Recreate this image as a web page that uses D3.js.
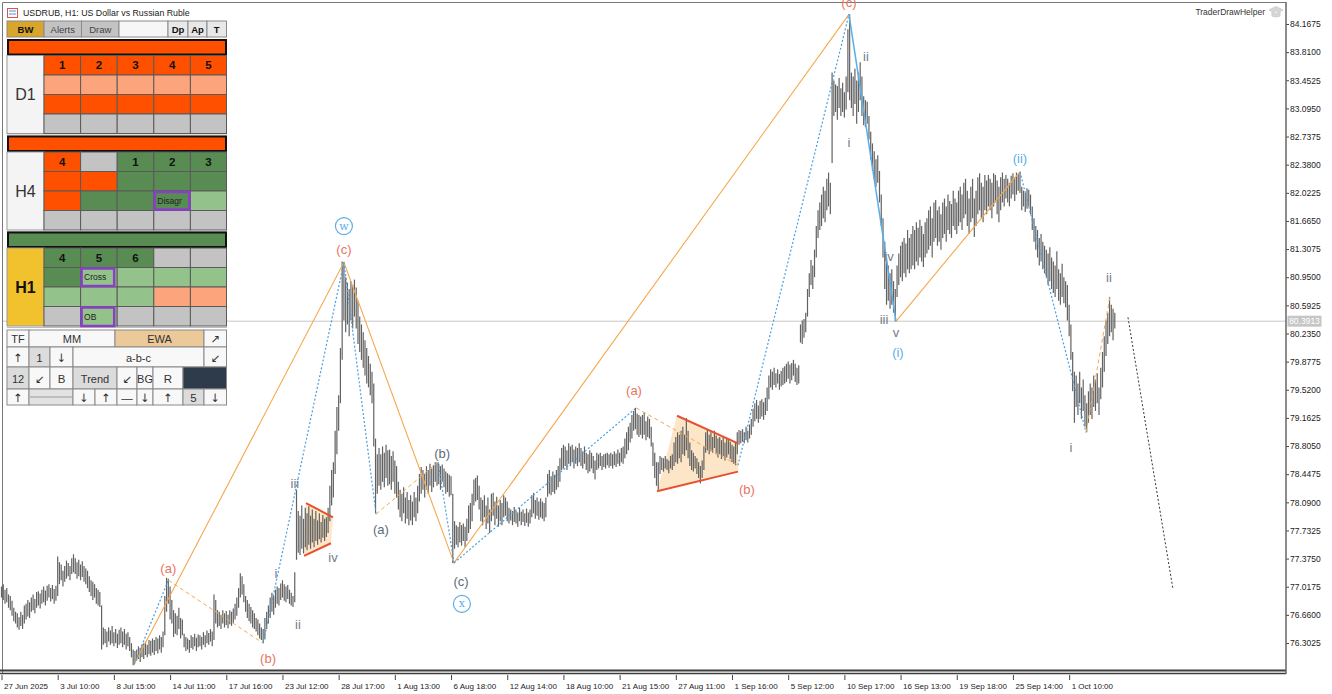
<!DOCTYPE html>
<html>
<head>
<meta charset="utf-8">
<script src="https://cdn.jsdelivr.net/npm/d3@7"></script>
<style>
  body { margin: 0; background: #fff; }
  svg { display: block; font-family: "Liberation Sans", Arial, sans-serif; }
</style>
</head>
<body>
<svg id="chart" width="1332" height="694"></svg>
<script>
// price axis ticks, time axis ticks (bar index + label), last price
const priceTicks = [84.1675, 83.81, 83.4525, 83.095, 82.7375, 82.38, 82.0225, 81.665, 81.3075, 80.95,
  80.5925, 80.235, 79.8775, 79.52, 79.1625, 78.805, 78.4475, 78.09, 77.7325, 77.375, 77.0175, 76.66, 76.3025];
const timeTickBars = [0, 32, 64, 96, 128, 160, 192, 224, 256, 288, 320, 352, 384, 416, 448, 480, 512, 544, 576, 608];
const timeLabels = ['27 Jun 2025', '3 Jul 10:00', '8 Jul 15:00', '14 Jul 11:00', '17 Jul 16:00', '23 Jul 12:00',
  '28 Jul 17:00', '1 Aug 13:00', '6 Aug 18:00', '12 Aug 14:00', '18 Aug 10:00', '21 Aug 15:00', '27 Aug 11:00',
  '1 Sep 16:00', '5 Sep 12:00', '10 Sep 17:00', '16 Sep 13:00', '19 Sep 18:00', '25 Sep 14:00', '1 Oct 10:00'];
const lastPrice = 80.3913;

// H1 bars as [low, high], one row per trading day (10:00-18:00)
const barsJun = [
  [76.88,77.02],[76.85,77.05],[76.80,76.98],[76.82,77.00],[76.75,76.92],
  [76.72,76.90],[76.65,76.84],[76.58,76.75],[76.55,76.70],[76.50,76.68],[76.47,76.63],[76.52,76.70],[76.48,76.66],[76.55,76.78]
];
const barsJul = [
  [76.60,76.80],[76.64,76.85],[76.62,76.82],[76.70,76.88],[76.72,76.92],[76.68,76.86],[76.75,76.95],[76.78,76.96],[76.74,76.93],
  [76.80,76.98],[76.82,77.02],[76.78,76.97],[76.84,77.03],[76.88,77.05],[76.83,77.00],[76.86,77.04],[76.80,76.99],[76.84,77.03],
  [76.90,77.40],[77.05,77.33],[77.10,77.30],[77.02,77.22],[77.08,77.28],[77.12,77.35],[77.15,77.32],[77.10,77.28],[77.18,77.38],
  [77.20,77.43],[77.18,77.38],[77.12,77.33],[77.15,77.36],[77.10,77.30],[77.14,77.34],[77.08,77.28],[77.05,77.25],[77.00,77.22],
  [76.95,77.15],[76.90,77.10],[76.85,77.08],[76.88,77.05],[76.80,77.00],[76.78,76.98],[76.76,76.95],[76.22,76.78],[76.28,76.50],
  [76.30,76.48],[76.25,76.45],[76.32,76.50],[76.28,76.46],[76.30,76.52],[76.26,76.44],[76.30,76.48],[76.24,76.42],[76.28,76.47],
  [76.30,76.50],[76.25,76.45],[76.28,76.48],[76.22,76.42],[76.26,76.44],[76.20,76.38],[76.12,76.30],[76.02,76.22],[76.05,76.20],
  [76.08,76.22],[76.10,76.26],[76.06,76.24],[76.12,76.28],[76.10,76.30],[76.15,76.32],[76.12,76.28],[76.16,76.34],[76.14,76.33],
  [76.18,76.36],[76.15,76.34],[76.20,76.38],[76.17,76.36],[76.22,76.40],[76.18,76.38],[76.25,76.45],[76.40,76.90],[76.70,77.13],
  [76.80,77.12],[76.60,77.02],[76.55,76.85],[76.38,76.72],[76.42,76.68],[76.40,76.65],[76.48,76.75],[76.36,76.62],[76.40,76.60],
  [76.25,76.42],[76.20,76.38],[76.22,76.36],[76.18,76.34],[76.24,76.40],[76.22,76.38],[76.26,76.42],[76.20,76.37],[76.25,76.41],
  [76.26,76.40],[76.22,76.38],[76.28,76.44],[76.25,76.40],[76.30,76.46],[76.28,76.43],[76.32,76.48],[76.26,76.45],[76.34,76.92],
  [76.55,76.85],[76.50,76.72],[76.52,76.70],[76.48,76.66],[76.55,76.72],[76.50,76.68],[76.53,76.71],[76.49,76.66],[76.54,76.72],
  [76.52,76.70],[76.56,76.74],[76.60,76.80],[76.65,76.88],[76.75,77.00],[76.88,77.19],[76.92,77.15],[76.82,77.05],[76.70,76.90],
  [76.62,76.85],[76.58,76.80],[76.55,76.76],[76.50,76.72],[76.48,76.68],[76.45,76.62],[76.40,76.60],[76.36,76.55],[76.34,76.50],
  [76.30,76.48],[76.35,76.62],[76.48,76.70],[76.55,76.78],[76.62,76.88],[76.70,76.94],[76.66,76.90],[76.75,76.98],[76.80,77.02],
  [76.78,77.00],[76.85,77.06],[76.88,77.10],[76.84,77.05],[76.82,77.02],[76.86,77.04],[76.80,76.98],[76.78,76.94],[76.76,76.90],
  [76.82,77.20],[77.36,78.25],[77.45,77.98],[77.42,77.92],[77.50,78.05],[77.44,77.88],[77.52,78.02],[77.48,77.95],[77.55,78.04],
  [77.50,77.92],[77.58,78.00],[77.52,77.88],[77.60,77.98],[77.55,77.86],[77.62,77.95],[77.58,77.84],[77.64,77.93],[77.60,77.88],
  [77.65,77.90],[77.70,78.02],[77.85,78.30],[78.05,78.50],[78.15,78.60],[78.45,79.00],[78.70,79.30],[79.00,79.45],[79.35,80.05],
  [79.90,81.15],[80.40,81.12],[80.25,80.95],[80.35,80.88],[80.20,80.80],[80.40,80.90],[80.30,80.85],[80.45,80.92],[80.30,80.82],
  [80.10,80.65],[80.00,80.45],[79.90,80.35],[79.80,80.25],[79.70,80.15],[79.60,80.05],[79.55,79.95],[79.45,79.85],[79.35,79.75],
  [78.80,79.60],[77.95,78.90],[78.20,78.70],[78.30,78.78],[78.25,78.70],[78.35,78.80],[78.28,78.72],[78.40,78.82],[78.30,78.75]
];
const barsAug = [
  [78.32,78.76],[78.25,78.68],[78.35,78.74],[78.20,78.62],[78.15,78.55],[78.00,78.35],[77.90,78.25],[77.85,78.20],[77.95,78.28],
  [77.82,78.15],[77.88,78.22],[77.80,78.12],[77.86,78.18],[77.80,78.10],[77.90,78.22],[77.85,78.15],[77.95,78.30],[78.10,78.45],
  [78.20,78.54],[78.25,78.50],[78.15,78.45],[78.25,78.55],[78.20,78.50],[78.30,78.58],[78.22,78.52],[78.28,78.56],[78.35,78.60],
  [78.30,78.60],[78.32,78.58],[78.25,78.55],[78.35,78.57],[78.28,78.52],[78.20,78.48],[78.22,78.46],[78.16,78.44],[78.18,78.42],
  [77.32,78.20],[77.50,77.85],[77.55,77.80],[77.52,77.78],[77.58,77.84],[77.54,77.80],[77.60,77.82],[77.52,77.78],[77.60,77.88],
  [77.70,78.05],[77.75,78.08],[77.85,78.20],[78.05,78.38],[78.10,78.40],[78.12,78.43],[78.00,78.30],[77.85,78.15],[77.80,78.12],
  [77.90,78.18],[77.75,78.05],[77.82,78.15],[77.70,78.00],[77.85,78.20],[77.92,78.21],[77.80,78.10],[77.88,78.16],[77.78,78.05],
  [77.85,78.12],[77.80,78.08],[77.90,78.18],[77.92,78.15],[77.85,78.10],[77.82,78.02],[77.86,78.00],[77.80,77.98],[77.84,78.03],
  [77.82,77.98],[77.78,77.96],[77.85,78.02],[77.80,77.97],[77.84,78.00],[77.79,77.95],[77.83,78.01],[77.78,77.96],[77.82,78.00],
  [77.90,78.18],[77.95,78.21],[77.88,78.12],[77.92,78.15],[77.87,78.10],[77.90,78.14],[77.88,78.10],[77.85,78.08],[77.90,78.15],
  [78.16,78.45],[78.20,78.50],[78.18,78.42],[78.22,78.48],[78.20,78.44],[78.25,78.50],[78.28,78.55],[78.35,78.65],[78.50,78.78],
  [78.52,78.82],[78.55,78.80],[78.50,78.75],[78.58,78.84],[78.55,78.80],[78.60,78.82],[78.52,78.76],[78.58,78.80],[78.55,78.78],
  [78.60,78.84],[78.55,78.78],[78.52,78.74],[78.58,78.80],[78.50,78.72],[78.46,78.70],[78.48,78.75],[78.52,78.72],[78.46,78.68],
  [78.38,78.62],[78.50,78.72],[78.52,78.70],[78.55,78.72],[78.50,78.68],[78.54,78.70],[78.52,78.71],[78.56,78.72],[78.53,78.70],
  [78.55,78.72],[78.52,78.70],[78.56,78.74],[78.54,78.71],[78.58,78.76],[78.55,78.72],[78.60,78.78],[78.58,78.80],[78.65,78.90],
  [78.70,78.98],[78.75,79.05],[78.85,79.10],[78.90,79.20],[79.00,79.25],[79.02,79.29],[78.95,79.22],[78.92,79.20],[78.95,79.18],
  [78.90,79.20],[78.95,79.23],[78.88,79.12],[78.92,79.18],[78.90,79.15],[78.80,79.05],[78.55,78.85],[78.40,78.72],[78.30,78.60],
  [78.25,78.60],[78.45,78.68],[78.50,78.66],[78.48,78.65],[78.52,78.68],[78.50,78.64],[78.46,78.62],[78.52,78.68],[78.50,78.70],
  [78.55,78.85],[78.60,78.92],[78.58,78.98],[78.65,78.95],[78.60,79.00],[78.70,79.05],[78.68,78.95],[78.75,79.16],[78.65,79.00],
  [78.55,78.85],[78.50,78.75],[78.48,78.72],[78.52,78.68],[78.45,78.65],[78.40,78.60],[78.33,78.55],[78.40,78.62],[78.50,78.80],
  [78.72,78.98],[78.75,79.01],[78.70,78.95],[78.74,78.98],[78.72,78.92],[78.78,79.00],[78.70,78.94],[78.66,78.90],[78.70,78.92]
];
const barsSep = [
  [78.64,78.88],[78.68,78.92],[78.62,78.85],[78.66,78.90],[78.70,78.88],[78.64,78.86],[78.60,78.82],[78.58,78.80],[78.56,78.85],
  [78.70,78.98],[78.82,79.01],[78.84,79.00],[78.86,79.02],[78.84,78.98],[78.88,79.05],[78.85,79.00],[78.90,79.08],[78.95,79.15],
  [79.05,79.28],[79.12,79.35],[79.15,79.39],[79.10,79.32],[79.15,79.38],[79.18,79.40],[79.14,79.36],[79.20,79.42],[79.25,79.55],
  [79.40,79.70],[79.55,79.78],[79.52,79.75],[79.58,79.80],[79.55,79.73],[79.60,79.78],[79.52,79.72],[79.56,79.76],[79.58,79.80],
  [79.60,79.82],[79.62,79.85],[79.66,79.88],[79.60,79.84],[79.64,79.86],[79.70,79.90],[79.62,79.85],[79.58,79.80],[79.60,79.83],
  [80.12,80.35],[80.10,80.40],[80.18,80.42],[80.25,80.50],[80.45,80.80],[80.70,81.00],[80.85,81.17],[80.80,81.10],[80.95,81.30],
  [81.20,81.60],[81.45,81.80],[81.55,81.90],[81.60,82.00],[81.70,82.10],[81.65,82.05],[81.80,82.20],[81.85,82.28],[81.75,82.15],
  [82.40,83.55],[83.00,83.45],[83.05,83.40],[82.95,83.38],[83.10,83.48],[83.00,83.35],[83.05,83.42],[82.98,83.30],[83.08,83.50],
  [83.30,84.10],[83.20,84.29],[83.10,83.55],[83.00,83.50],[83.15,83.60],[82.90,83.45],[83.05,83.55],[83.20,83.68],[83.00,83.50],
  [82.88,83.25],[82.86,83.20],[82.90,83.18],[82.70,83.00],[82.45,82.80],[82.30,82.65],[82.20,82.55],[82.10,82.45],[82.15,82.50],
  [81.90,82.30],[81.60,82.00],[81.20,81.70],[80.80,81.40],[80.60,81.20],[80.65,81.10],[80.55,81.00],[80.60,81.05],[80.50,80.90],
  [80.39,80.80],[80.70,81.10],[80.85,81.25],[80.95,81.35],[80.90,81.40],[81.00,81.45],[80.95,81.38],[81.05,81.55],[81.00,81.45],
  [81.05,81.50],[81.10,81.60],[81.05,81.55],[81.15,81.65],[81.10,81.58],[81.20,81.68],[81.15,81.60],[81.08,81.50],[81.20,81.65],
  [81.25,81.70],[81.30,81.80],[81.35,81.85],[81.20,81.70],[81.40,81.90],[81.45,81.93],[81.35,81.80],[81.40,81.85],[81.30,81.75],
  [81.45,81.90],[81.50,81.95],[81.40,81.85],[81.55,82.00],[81.50,81.92],[81.45,81.88],[81.60,82.05],[81.55,81.95],[81.50,81.90],
  [81.60,82.05],[81.65,82.10],[81.55,82.00],[81.70,82.15],[81.75,82.20],[81.60,82.05],[81.50,81.95],[81.65,82.10],[81.70,82.20],
  [81.46,81.95],[81.60,82.05],[81.75,82.22],[81.80,82.27],[81.70,82.15],[81.65,82.10],[81.80,82.25],[81.75,82.18],[81.85,82.25],
  [81.80,82.20],[81.70,82.15],[81.85,82.27],[81.90,82.25],[81.75,82.18],[81.65,82.10],[81.80,82.22],[81.90,82.28],[81.85,82.20],
  [81.95,82.25],[81.90,82.20],[81.85,82.15],[81.95,82.24],[82.00,82.27],[81.92,82.22],[82.00,82.28],[82.05,82.26],[82.02,82.29],
  [81.80,82.10],[81.85,82.05],[81.78,82.02],[81.82,82.08],[81.85,82.06],[81.75,82.00],[81.55,81.85],[81.40,81.70],[81.30,81.60],
  [81.20,81.55],[81.10,81.45],[81.15,81.50],[81.05,81.40],[81.00,81.35],[80.95,81.30],[80.85,81.25],[80.90,81.33],[80.80,81.20],
  [80.75,81.15],[80.70,81.10],[80.80,81.28],[80.65,81.05],[80.60,81.00],[80.70,81.12],[80.62,80.95],[80.57,80.90],[80.40,80.85]
];
const barsOct = [
  [80.20,80.60],[79.90,80.35],[79.50,80.00],[79.10,79.75],[79.30,79.70],[79.20,79.60],[79.35,79.75],[79.15,79.55],[79.25,79.65],
  [79.05,79.45],[78.98,79.35],[79.10,79.50],[79.20,79.60],[79.15,79.55],[79.30,79.70],[79.25,79.65],[79.35,79.73],[79.20,79.55],
  [79.40,79.80],[79.55,80.00],[79.75,80.20],[79.95,80.40],[80.10,80.50],[80.20,80.70],[80.25,80.60],[80.15,80.55],[80.30,80.50]
];

// wave markup, points as [bar index, price]
const waveW = [[75.5, 76.03], [195, 81.14], [257.7, 77.32], [482.6, 84.29]];
const waveOneDown = [[482.6, 84.29], [509.4, 80.39]];
const waveTwoUp = [[509.4, 80.39], [580, 82.29]];
const blueDotted = [
  [[75.5, 76.03], [95, 77.10]],
  [[149, 76.30], [195, 81.14]],
  [[195, 81.14], [213.3, 77.94]],
  [[248.6, 78.60], [257.7, 77.32]],
  [[257.7, 77.32], [361.4, 79.29]],
  [[419.4, 78.56], [482.6, 84.29]],
  [[580, 82.29], [617.6, 78.98]]
];
const orangeDashed = [
  [[95, 77.10], [149, 76.30]],
  [[213.3, 77.94], [248.6, 78.60]],
  [[361.4, 79.29], [419.4, 78.56]],
  [[617.6, 78.98], [631.3, 80.71]]
];
const projection = [[641.5, 80.44], [667.1, 76.99]];
const triangles = [
  { upper: [[173.4, 78.08], [188.8, 77.90]], lower: [[172.3, 77.41], [187.6, 77.57]] },
  { upper: [[384.7, 79.19], [419.4, 78.84]], lower: [[373.3, 78.23], [419.4, 78.48]] }
];
const waveLabels = [
  ['(a)', 95, 77.25, 'major'], ['(b)', 151.8, 76.11, 'major'], ['(c)', 195, 81.30, 'major'],
  ['i', 156.3, 77.19, 'sub'], ['ii', 168.8, 76.54, 'sub'], ['iii', 167.1, 78.33, 'sub'], ['iv', 188.8, 77.39, 'sub'],
  ['(a)', 216.1, 77.75, 'minor'], ['(b)', 250.9, 78.71, 'minor'], ['(c)', 261.7, 77.09, 'minor'],
  ['(a)', 360.2, 79.51, 'major'], ['(b)', 424.5, 78.25, 'major'], ['(c)', 482.6, 84.44, 'major'],
  ['i', 482.6, 82.66, 'sub'], ['ii', 492.3, 83.76, 'sub'], ['iii', 502.6, 80.41, 'sub'],
  ['iv', 505.4, 81.21, 'sub'], ['v', 509.4, 80.25, 'sub'],
  ['(i)', 510.5, 79.99, 'blue'], ['(ii)', 580, 82.46, 'blue'],
  ['i', 609, 78.79, 'sub'], ['ii', 630.7, 80.95, 'sub']
];
const circledLabels = [['w', 195, 81.60], ['x', 262.2, 76.80]];

// signal panel
const d1Grid = ['OOOOO', 'SSSSS', 'OOOOO', 'GGGGG'];
const d1Nums = ['1', '2', '3', '4', '5'];
const h4Grid = ['OGDDD', 'OODDD', 'ODDDL', 'GGGGG'];
const h4Nums = ['4', '', '1', '2', '3'];
const h1Grid = ['DDDGG', 'DLLLL', 'LLLSS', 'GLGGG'];
const h1Nums = ['4', '5', '6', '', ''];

const bars = [].concat(barsJun, barsJul, barsAug, barsSep, barsOct)
  .map((d, i) => ({ i: i, low: d[0], high: d[1] }));

const svg = d3.select('#chart');
const x = d3.scaleLinear().domain([0, 634]).range([1.5, 1114.8]);
const y = d3.scaleLinear().domain([76.3025, 84.1675]).range([643, 24]);
const line = d3.line().x(d => x(d[0])).y(d => y(d[1]));

svg.append('rect').attr('width', 1332).attr('height', 694).attr('fill', '#fff');

// frame
svg.append('path')
  .attr('d', 'M2.5,674 V2.5 H1286')
  .attr('fill', 'none').attr('stroke', '#777').attr('stroke-width', 1);
svg.append('line').attr('x1', 0).attr('x2', 1286).attr('y1', 670.5).attr('y2', 670.5)
  .attr('stroke', '#3c3c3c').attr('stroke-width', 2);
svg.append('line').attr('x1', 0).attr('x2', 1286).attr('y1', 673.5).attr('y2', 673.5)
  .attr('stroke', '#3c3c3c').attr('stroke-width', 1.5);

// last price line
svg.append('line')
  .attr('x1', 3).attr('x2', 1286).attr('y1', y(lastPrice)).attr('y2', y(lastPrice))
  .attr('stroke', '#c8c8c8').attr('stroke-width', 1);

// triangle fills under the bars
svg.append('g').selectAll('path').data(triangles).join('path')
  .attr('d', d => line([d.upper[0], d.upper[1], d.lower[1], d.lower[0]]) + 'Z')
  .attr('fill', '#fde2bd').attr('opacity', 0.85);

// bars
svg.append('g').selectAll('line').data(bars).join('line')
  .attr('x1', d => x(d.i)).attr('x2', d => x(d.i))
  .attr('y1', d => y(d.high)).attr('y2', d => y(d.low))
  .attr('stroke', '#626262').attr('stroke-width', 1.2);

// wave lines
const waves = svg.append('g').attr('fill', 'none');
waves.append('path').attr('d', line(waveW)).attr('stroke', '#f5a84e').attr('stroke-width', 1.1);
waves.append('path').attr('d', line(waveTwoUp)).attr('stroke', '#f5a84e').attr('stroke-width', 1.1);
waves.append('path').attr('d', line(waveOneDown)).attr('stroke', '#5aaee6').attr('stroke-width', 1.5);
waves.selectAll('.bd').data(blueDotted).join('path').attr('class', 'bd')
  .attr('d', line).attr('stroke', '#4a9fe0').attr('stroke-width', 1.2).attr('stroke-dasharray', '2,2');
waves.selectAll('.od').data(orangeDashed).join('path').attr('class', 'od')
  .attr('d', line).attr('stroke', '#f5a84e').attr('stroke-width', 1).attr('stroke-dasharray', '4,3');
waves.append('path').attr('d', line(projection))
  .attr('stroke', '#333').attr('stroke-width', 1).attr('stroke-dasharray', '2,2');
triangles.forEach(t => {
  waves.append('path').attr('d', line(t.upper)).attr('stroke', '#e8502e').attr('stroke-width', 2);
  waves.append('path').attr('d', line(t.lower)).attr('stroke', '#e8502e').attr('stroke-width', 2);
});

// wave labels
const labelColor = { major: '#e87462', minor: '#5c6b7c', sub: '#737d8a', blue: '#5aaee6' };
svg.append('g').selectAll('text').data(waveLabels).join('text')
  .attr('x', d => x(d[1])).attr('y', d => y(d[2]))
  .attr('text-anchor', 'middle').attr('dominant-baseline', 'central')
  .attr('font-size', 13).attr('fill', d => labelColor[d[3]])
  .text(d => d[0]);
const circ = svg.append('g').selectAll('g').data(circledLabels).join('g')
  .attr('transform', d => `translate(${x(d[1])},${y(d[2])})`);
circ.append('circle').attr('r', 8.5).attr('fill', '#fff').attr('stroke', '#5aaee6').attr('stroke-width', 1.2);
circ.append('text').attr('text-anchor', 'middle').attr('dominant-baseline', 'central')
  .attr('font-family', '"DejaVu Serif", serif').attr('font-size', 11).attr('fill', '#5aaee6')
  .text(d => d[0]);

// price axis
const yAxis = svg.append('g').attr('transform', 'translate(1286,0)')
  .call(d3.axisRight(y).tickValues(priceTicks).tickFormat(d3.format('.4f')).tickSize(3).tickPadding(1));
yAxis.select('.domain').remove();
yAxis.selectAll('line').attr('stroke', '#444');
yAxis.selectAll('text').attr('font-size', 8.5).attr('fill', '#222').attr('font-family', '"Liberation Sans", Arial, sans-serif');
svg.append('line').attr('x1', 1286).attr('x2', 1286).attr('y1', 2).attr('y2', 674)
  .attr('stroke', '#666').attr('stroke-width', 1.5);

// last price tag
svg.append('rect').attr('x', 1287.5).attr('y', y(lastPrice) - 5.5).attr('width', 34).attr('height', 11).attr('fill', '#c6c6c6');
svg.append('text').attr('x', 1304.5).attr('y', y(lastPrice)).attr('text-anchor', 'middle')
  .attr('dominant-baseline', 'central').attr('font-size', 8.5).attr('fill', '#fff').text(d3.format('.4f')(lastPrice));

// time axis
const xAxis = svg.append('g').attr('transform', 'translate(0,675)')
  .call(d3.axisBottom(x).tickValues(timeTickBars).tickFormat((d, k) => timeLabels[k]).tickSize(5).tickPadding(3));
xAxis.select('.domain').remove();
xAxis.selectAll('line').attr('stroke', '#444');
xAxis.selectAll('text').attr('text-anchor', 'start').attr('x', 2).attr('font-size', 8)
  .attr('fill', '#222').attr('font-family', '"Liberation Sans", Arial, sans-serif');

// header text
svg.append('text').attr('x', 1265).attr('y', 15).attr('text-anchor', 'end')
  .attr('font-size', 8.5).attr('fill', '#333').text('TraderDrawHelper');
svg.append('path').attr('d', 'M1269,10 L1276,6.5 L1283,10 L1276,13.5 Z M1272,12 V16 Q1276,18 1280,16 V12')
  .attr('fill', '#d6d6d6').attr('stroke', '#cfcfcf');

const title = svg.append('g');
title.append('rect').attr('x', 7.5).attr('y', 8.5).attr('width', 10).attr('height', 9)
  .attr('fill', '#fff').attr('stroke', '#d9534f');
[11, 14].forEach(v => title.append('line').attr('x1', 9).attr('x2', 16).attr('y1', v).attr('y2', v).attr('stroke', '#5b8fd6'));
title.append('text').attr('x', 23).attr('y', 16).attr('font-size', 8.8).attr('fill', '#222')
  .text('USDRUB, H1:  US Dollar vs Russian Ruble');

// ---- signal panel ----
const panel = svg.append('g').attr('font-family', '"Liberation Sans", Arial, sans-serif');
const fillOf = { O: '#ff5000', S: '#fca47c', G: '#c3c3c3', D: '#588c52', L: '#93c28b' };
const colX = [44, 80.6, 117.2, 153.8, 190.4, 226.5];

function cellRect(x0, y0, x1, y1, fill, stroke) {
  return panel.append('rect').attr('x', x0).attr('y', y0).attr('width', x1 - x0).attr('height', y1 - y0)
    .attr('fill', fill).attr('stroke', stroke || '#5a5a5a').attr('stroke-width', 1);
}
function cellText(cx, cy, s, size, weight, color) {
  return panel.append('text').attr('x', cx).attr('y', cy).attr('text-anchor', 'middle')
    .attr('dominant-baseline', 'central').attr('font-size', size).attr('font-weight', weight || 'normal')
    .attr('fill', color || '#222').text(s);
}

// buttons row
[[7, 44, 'BW', '#d9a52b', 'bold'], [44, 81.5, 'Alerts', '#c3c3c3'], [81.5, 119, 'Draw', '#c3c3c3'],
 [119, 168, '', '#f6f6f6'], [168, 188, 'Dp', '#e8e8e8', 'bold'], [188, 207, 'Ap', '#e8e8e8', 'bold'],
 [207, 226.5, 'T', '#e8e8e8', 'bold']].forEach(b => {
  cellRect(b[0], 21, b[1], 37, b[3], '#8a8a8a');
  cellText((b[0] + b[1]) / 2, 29, b[2], 9.5, b[4], b[4] ? '#111' : '#444');
});

function block(top, name, nameFill, headFill, grid, nums, bold) {
  cellRect(8, top, 226, top + 14.5, headFill, '#111').attr('stroke-width', 2);
  const g0 = top + 15.5, rh = 19.5;
  cellRect(7, g0, 44, g0 + rh * 4, nameFill, '#999');
  cellText(25.5, g0 + rh * 2, name, 16, bold ? 'bold' : 'normal', bold ? '#111' : '#333');
  grid.forEach((row, r) => {
    row.split('').forEach((c, k) => {
      cellRect(colX[k], g0 + r * rh, colX[k + 1], g0 + (r + 1) * rh, fillOf[c]);
      if (r === 0 && nums[k]) cellText((colX[k] + colX[k + 1]) / 2, g0 + rh / 2, nums[k], 11.5, 'bold', '#111');
    });
  });
  panel.append('line').attr('x1', 7).attr('x2', 227).attr('y1', g0 + rh * 4 + 1.5).attr('y2', g0 + rh * 4 + 1.5)
    .attr('stroke', '#bdbdbd');
  return g0;
}
function tag(x0, y0, x1, y1, s) {
  panel.append('rect').attr('x', x0 + 1).attr('y', y0 + 1).attr('width', x1 - x0 - 2).attr('height', y1 - y0 - 2)
    .attr('fill', 'none').attr('stroke', '#8a3fc8').attr('stroke-width', 2.5);
  panel.append('text').attr('x', x0 + 3.5).attr('y', (y0 + y1) / 2).attr('dominant-baseline', 'central')
    .attr('font-size', 8.5).attr('fill', '#222').text(s);
}

block(40, 'D1', '#f4f4f4', '#ff5000', d1Grid, d1Nums, false);
const h4Top = block(136.5, 'H4', '#f4f4f4', '#ff5000', h4Grid, h4Nums, false);
const h1Top = block(232.5, 'H1', '#f2c12e', '#588c52', h1Grid, h1Nums, true);
tag(colX[3], h4Top + 2 * 19.5, colX[4], h4Top + 3 * 19.5, 'Disagr');
tag(colX[1], h1Top + 19.5, colX[2] - 2, h1Top + 2 * 19.5, 'Cross');
tag(colX[1], h1Top + 3 * 19.5, colX[2] - 2, h1Top + 4 * 19.5 + 1, 'OB');

// tool rows
const toolFill = { w: '#f8f8f8', g: '#dcdcdc', t: '#ebc998', n: '#2d3b4b', s: '#e2e2e2' };
const toolRows = [
  [330, 347, [[7, 29, 'TF', 'w'], [29, 115, 'MM', 'w'], [115, 204, 'EWA', 't'], [204, 226.5, '↗', 'w']]],
  [347, 367, [[7, 29, '↑', 'w'], [29, 50, '1', 'g'], [50, 73, '↓', 'w'], [73, 204, 'a-b-c', 'w'], [204, 226.5, '↙', 'w']]],
  [367, 389, [[7, 29, '12', 'g'], [29, 50, '↙', 'w'], [50, 73, 'B', 'w'], [73, 117, 'Trend', 'g'], [117, 137, '↙', 'w'],
    [137, 153, 'BG', 'w'], [153, 183, 'R', 'w'], [183, 226.5, '', 'n']]],
  [389, 405, [[7, 29, '↑', 'w'], [29, 73, '', 's'], [73, 95, '↓', 'w'], [95, 117, '↑', 'w'], [117, 137, '—', 'w'],
    [137, 153, '↓', 'w'], [153, 183, '↑', 'w'], [183, 204, '5', 'g'], [204, 226.5, '↓', 'w']]]
];
toolRows.forEach(([y0, y1, cells]) => {
  cells.forEach(c => {
    cellRect(c[0], y0, c[1], y1, toolFill[c[3]], '#8a8a8a');
    if (c[2]) cellText((c[0] + c[1]) / 2, (y0 + y1) / 2 + 0.5, c[2], c[2].length > 1 ? 11 : 11.5, 'normal', '#333')
      .attr('font-family', /[↑↓↗↙]/.test(c[2]) ? '"DejaVu Sans", sans-serif' : null);
  });
});
panel.append('line').attr('x1', 30).attr('x2', 72).attr('y1', 397).attr('y2', 397).attr('stroke', '#999');
</script>
</body>
</html>
